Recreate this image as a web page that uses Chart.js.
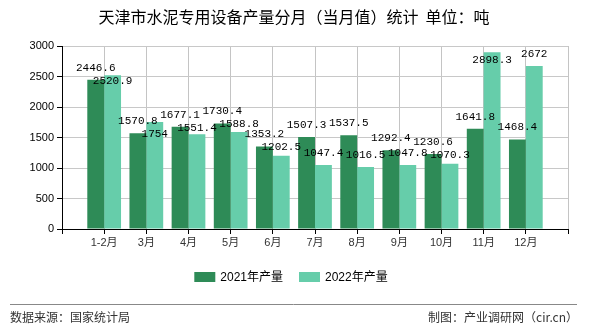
<!DOCTYPE html>
<html>
<head>
<meta charset="utf-8">
<script src="https://cdn.jsdelivr.net/npm/chart.js@4/dist/chart.umd.min.js"></script>
<style>
  html, body { margin: 0; padding: 0; background: #fff; }
  #wrap { width: 590px; height: 330px; }
</style>
</head>
<body>
<div id="wrap"><canvas id="barChart"></canvas></div>
<script>
    // 数据
    const months = ['1-2月', '3月', '4月', '5月', '6月', '7月', '8月', '9月', '10月', '11月', '12月'];
    const output2021 = [2446.6, 1570.8, 1677.1, 1730.4, 1353.2, 1507.3, 1537.5, 1292.4, 1230.6, 1641.8, 1468.4];
    const output2022 = [2520.9, 1754, 1551.4, 1588.8, 1202.5, 1047.4, 1016.5, 1047.8, 1070.3, 2898.3, 2672];
    const yTicks = [0, 500, 1000, 1500, 2000, 2500, 3000];

    const cjk = '"Liberation Sans", "Noto Sans CJK SC", sans-serif';

    // 两端留空位，类目落在网格线上
    const labels = [''].concat(months, ['']);
    const pad = arr => [null].concat(arr, [null]);

    // 标题、图例、页脚
    const decorPlugin = {
        id: 'decor',
        afterDraw(chart) {
            const ctx = chart.ctx;
            ctx.save();
            ctx.fillStyle = '#000';
            ctx.font = '16px "Noto Sans CJK SC", sans-serif';
            ctx.textAlign = 'center';
            ctx.textBaseline = 'middle';
            ctx.fillText('天津市水泥专用设备产量分月（当月值）统计  单位：吨', 294, 17);

            // 图例
            ctx.font = '12px ' + cjk;
            const items = chart.data.datasets.map(ds => ({
                text: ds.label, color: ds.backgroundColor, w: ctx.measureText(ds.label).width
            }));
            const boxW = 21, gap = 5, spacing = 16;
            let total = 0;
            items.forEach((it, i) => { total += boxW + gap + it.w + (i ? spacing : 0); });
            let x = 291 - total / 2;
            ctx.textAlign = 'left';
            items.forEach(it => {
                ctx.fillStyle = it.color;
                ctx.fillRect(x, 272, boxW, 10);
                ctx.fillStyle = '#000';
                ctx.fillText(it.text, x + boxW + gap, 277.5);
                x += boxW + gap + it.w + spacing;
            });

            ctx.strokeStyle = '#888';
            ctx.lineWidth = 1;
            ctx.beginPath();
            ctx.moveTo(10, 304.5);
            ctx.lineTo(577, 304.5);
            ctx.stroke();

            ctx.fillStyle = '#333';
            ctx.font = '12px "Noto Sans CJK SC", sans-serif';
            ctx.textAlign = 'left';
            ctx.fillText('数据来源：国家统计局', 10, 317);
            ctx.textAlign = 'right';
            ctx.fillText('制图：产业调研网（cir.cn）', 578, 317);
            ctx.restore();
        }
    };

    // 数值标签（简单避让）
    const valueLabels = {
        id: 'valueLabels',
        afterDatasetsDraw(chart) {
            const ctx = chart.ctx;
            const top = chart.chartArea.top;
            ctx.save();
            ctx.font = '11px "Liberation Mono", monospace';
            ctx.fillStyle = '#000';
            ctx.textAlign = 'center';
            ctx.textBaseline = 'middle';
            const placed = {};
            chart.data.datasets.forEach((ds, di) => {
                const meta = chart.getDatasetMeta(di);
                meta.data.forEach((bar, i) => {
                    const v = ds.data[i];
                    if (v == null) return;
                    let y = bar.y - 12;
                    if (y < top + 6) y = bar.y + 8;
                    const prev = placed[i];
                    if (prev != null && Math.abs(prev - y) < 12) {
                        y = prev + 13;
                    }
                    placed[i] = y;
                    ctx.fillText(String(v), bar.x, y);
                });
            });
            ctx.restore();
        }
    };

    const barChartCtx = document.getElementById('barChart').getContext('2d');
    new Chart(barChartCtx, {
        type: 'bar',
        data: {
            labels: labels,
            datasets: [{
                label: '2021年产量',
                data: pad(output2021),
                backgroundColor: '#2E8B57',
                categoryPercentage: 0.8,
                barPercentage: 1.0
            }, {
                label: '2022年产量',
                data: pad(output2022),
                backgroundColor: '#66CDAA',
                categoryPercentage: 0.8,
                barPercentage: 1.0
            }]
        },
        options: {
            responsive: true,
            maintainAspectRatio: false,
            animation: false,
            layout: {
                padding: { top: 46, left: 0, right: 22, bottom: 70 }
            },
            plugins: {
                title: { display: false },
                tooltip: { enabled: false },
                legend: { display: false }
            },
            scales: {
                x: {
                    offset: false,
                    afterFit(scale) { scale.height = 31; },
                    border: { display: true, color: '#000', width: 1 },
                    grid: {
                        color: '#c4c4c4',
                        tickColor: '#000',
                        tickLength: 5,
                        offset: false
                    },
                    ticks: {
                        autoSkip: false,
                        maxRotation: 0,
                        color: '#333',
                        font: { family: cjk, size: 11 },
                        padding: 2
                    }
                },
                y: {
                    min: 0,
                    max: 3000,
                    afterFit(scale) { scale.width = 62; },
                    afterBuildTicks(scale) { scale.ticks = yTicks.map(v => ({ value: v })); },
                    border: { display: true, color: '#000', width: 1 },
                    grid: {
                        color: '#c8c8c8',
                        tickColor: '#000',
                        tickLength: 5
                    },
                    ticks: {
                        color: '#000',
                        font: { family: cjk, size: 11 },
                        padding: 3,
                        callback: v => String(v)
                    }
                }
            }
        },
        plugins: [decorPlugin, valueLabels]
    });
</script>
</body>
</html>
